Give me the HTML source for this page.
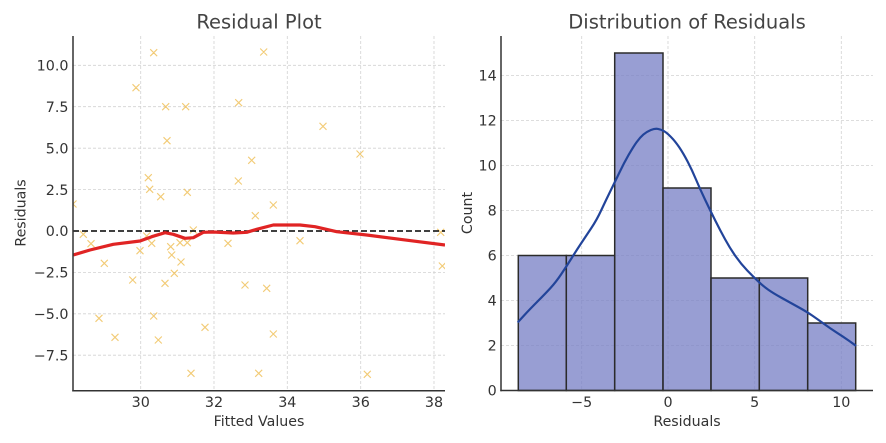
<!DOCTYPE html>
<html><head><meta charset="utf-8"><style>
html,body{margin:0;padding:0;background:#fff;}
svg{display:block;}
text{font-family:"DejaVu Sans","Liberation Sans",sans-serif;}
</style></head><body>
<svg width="886" height="443" viewBox="0 0 886 443" xmlns="http://www.w3.org/2000/svg">
<defs>
<clipPath id="cl"><rect x="73" y="36" width="372" height="355"/></clipPath>
</defs>
<rect width="886" height="443" fill="#fff"/>

<g stroke="#d2d2d2" stroke-width="0.8" stroke-dasharray="3,2" fill="none">
<line x1="140.7" y1="36" x2="140.7" y2="391"/>
<line x1="214" y1="36" x2="214" y2="391"/>
<line x1="287.3" y1="36" x2="287.3" y2="391"/>
<line x1="360.7" y1="36" x2="360.7" y2="391"/>
<line x1="434" y1="36" x2="434" y2="391"/>
<line x1="73" y1="65.3" x2="445" y2="65.3"/>
<line x1="73" y1="106.7" x2="445" y2="106.7"/>
<line x1="73" y1="148.2" x2="445" y2="148.2"/>
<line x1="73" y1="189.6" x2="445" y2="189.6"/>
<line x1="73" y1="272.4" x2="445" y2="272.4"/>
<line x1="73" y1="313.8" x2="445" y2="313.8"/>
<line x1="73" y1="355.2" x2="445" y2="355.2"/>
</g>

<g clip-path="url(#cl)" stroke="#f0c25e" stroke-opacity="0.85" stroke-width="1.1" fill="none">
<path d="M69.5,200.5l7,7m0,-7l-7,7 M132.5,84.2l7,7m0,-7l-7,7 M150.2,49.2l7,7m0,-7l-7,7 M162.2,103.2l7,7m0,-7l-7,7 M182.2,103.2l7,7m0,-7l-7,7 M163.5,137.2l7,7m0,-7l-7,7 M144.8,174.2l7,7m0,-7l-7,7 M146.2,185.8l7,7m0,-7l-7,7 M157.2,193.2l7,7m0,-7l-7,7 M183.8,188.8l7,7m0,-7l-7,7 M235.2,99.2l7,7m0,-7l-7,7 M260.2,48.5l7,7m0,-7l-7,7 M319.5,122.8l7,7m0,-7l-7,7 M356.5,150.5l7,7m0,-7l-7,7 M248.2,156.8l7,7m0,-7l-7,7 M234.8,177.5l7,7m0,-7l-7,7 M269.8,201.5l7,7m0,-7l-7,7 M251.8,212.2l7,7m0,-7l-7,7 M79.8,230.8l7,7m0,-7l-7,7 M87.5,240.2l7,7m0,-7l-7,7 M100.8,259.8l7,7m0,-7l-7,7 M129.2,276.5l7,7m0,-7l-7,7 M136.5,247.2l7,7m0,-7l-7,7 M148.2,239.8l7,7m0,-7l-7,7 M143.2,232.5l7,7m0,-7l-7,7 M95.5,314.8l7,7m0,-7l-7,7 M111.5,333.8l7,7m0,-7l-7,7 M150.2,312.5l7,7m0,-7l-7,7 M154.8,336.5l7,7m0,-7l-7,7 M161.5,279.8l7,7m0,-7l-7,7 M167.2,243.2l7,7m0,-7l-7,7 M168.2,251.5l7,7m0,-7l-7,7 M170.8,269.8l7,7m0,-7l-7,7 M177.5,258.5l7,7m0,-7l-7,7 M176.5,239.2l7,7m0,-7l-7,7 M183.8,239.2l7,7m0,-7l-7,7 M189.8,226.5l7,7m0,-7l-7,7 M187.5,369.8l7,7m0,-7l-7,7 M201.5,323.8l7,7m0,-7l-7,7 M224.5,239.8l7,7m0,-7l-7,7 M241.5,281.5l7,7m0,-7l-7,7 M255.2,369.8l7,7m0,-7l-7,7 M263.2,284.8l7,7m0,-7l-7,7 M269.8,330.5l7,7m0,-7l-7,7 M296.5,237.2l7,7m0,-7l-7,7 M363.8,370.8l7,7m0,-7l-7,7 M437.2,228.8l7,7m0,-7l-7,7 M438.8,262.5l7,7m0,-7l-7,7"/>
</g>

<line x1="73" y1="231" x2="445" y2="231" stroke="#000" stroke-width="1.6" stroke-dasharray="6,3"/>

<polyline clip-path="url(#cl)" fill="none" stroke="#e02424" stroke-width="3.2" stroke-linejoin="round" points="73.3,255 90,250 113.3,244.3 140,241 151.7,236.7 165,232.7 173.3,234.3 185,238.3 193.3,237.7 203.3,232.3 213.3,232 233.3,233 246.7,232.3 256.7,229.3 273.3,225 300,225 315,226.7 336.7,231.7 366.7,235 400,239.3 445,245"/>

<g stroke="#333" stroke-width="1.5">
<line x1="73" y1="36" x2="73" y2="391.5"/>
<line x1="72.3" y1="390.8" x2="445" y2="390.8"/>
</g>

<g fill="#333" font-size="14.3" text-anchor="end">
<text x="68.5" y="70.5">10.0</text>
<text x="68.5" y="111.9">7.5</text>
<text x="68.5" y="153.4">5.0</text>
<text x="68.5" y="194.8">2.5</text>
<text x="68.5" y="236.2">0.0</text>
<text x="68.5" y="277.6">−2.5</text>
<text x="68.5" y="319">−5.0</text>
<text x="68.5" y="360.4">−7.5</text>
</g>
<g fill="#333" font-size="14.3" text-anchor="middle">
<text x="140.7" y="407">30</text>
<text x="214" y="407">32</text>
<text x="287.3" y="407">34</text>
<text x="360.7" y="407">36</text>
<text x="434" y="407">38</text>
</g>
<text x="259" y="426" font-size="14.2" fill="#333" text-anchor="middle">Fitted Values</text>
<text transform="translate(25.5,213) rotate(-90)" font-size="14.2" fill="#333" text-anchor="middle">Residuals</text>
<text x="259" y="28.3" font-size="19.5" fill="#444" text-anchor="middle">Residual Plot</text>

<g stroke="#d2d2d2" stroke-width="0.8" stroke-dasharray="3,2" fill="none">
<line x1="581.7" y1="36" x2="581.7" y2="391"/>
<line x1="668" y1="36" x2="668" y2="391"/>
<line x1="754.7" y1="36" x2="754.7" y2="391"/>
<line x1="841.3" y1="36" x2="841.3" y2="391"/>
<line x1="501" y1="345.5" x2="873" y2="345.5"/>
<line x1="501" y1="300.5" x2="873" y2="300.5"/>
<line x1="501" y1="255.5" x2="873" y2="255.5"/>
<line x1="501" y1="210.5" x2="873" y2="210.5"/>
<line x1="501" y1="165.5" x2="873" y2="165.5"/>
<line x1="501" y1="120.5" x2="873" y2="120.5"/>
<line x1="501" y1="75.5" x2="873" y2="75.5"/>
</g>

<g fill="rgb(118,126,196)" fill-opacity="0.75" stroke="#2b2b2b" stroke-width="1.5">
<rect x="518.3" y="255.5" width="48" height="135"/>
<rect x="566.3" y="255.5" width="48.4" height="135"/>
<rect x="614.7" y="53" width="48.3" height="337.5"/>
<rect x="663" y="188" width="48" height="202.5"/>
<rect x="711" y="278" width="48.3" height="112.5"/>
<rect x="759.3" y="278" width="48.4" height="112.5"/>
<rect x="807.7" y="323" width="48" height="67.5"/>
</g>

<path fill="none" stroke="#22449a" stroke-width="2.2" stroke-linejoin="round" stroke-linecap="round" d="M518.3,321.7 L524.15,315.35 Q530,309 537.5,301.5 Q545,294 550.5,288 Q556,282 561.35,274 Q566.7,266 571.7,258 Q576.7,250 581.35,243 Q586,236 591.35,228 Q596.7,220 601.35,210 Q606,200 610.5,190.85 Q615,181.7 619.5,172.35 Q624,163 628.65,154.85 Q633.3,146.7 636.65,142.1 Q640,137.5 643.35,134.6 Q646.7,131.7 650.85,130 Q655,128.3 658,128.9 Q661,129.5 663.85,131.1 Q666.7,132.7 670.85,136.85 Q675,141 679.15,147.15 Q683.3,153.3 687.65,161.65 Q692,170 696,179.5 Q700,189 705,199.5 Q710,210 715,220 Q720,230 725,239.15 Q730,248.3 735.5,256.15 Q741,264 747.15,270.35 Q753.3,276.7 758.15,281.35 Q763,286 768.15,289.65 Q773.3,293.3 781.65,297.9 Q790,302.5 798.35,307.1 Q806.7,311.7 812.35,315.6 Q818,319.5 824,323.9 Q830,328.3 836.5,332.4 Q843,336.5 849.15,340.9 L855.3,345.3"/>

<g stroke="#333" stroke-width="1.5">
<line x1="501" y1="36" x2="501" y2="391.2"/>
<line x1="500.3" y1="390.5" x2="873" y2="390.5"/>
</g>

<g fill="#333" font-size="14.3" text-anchor="end">
<text x="496.7" y="395.7">0</text>
<text x="496.7" y="350.7">2</text>
<text x="496.7" y="305.7">4</text>
<text x="496.7" y="260.7">6</text>
<text x="496.7" y="215.7">8</text>
<text x="496.7" y="170.7">10</text>
<text x="496.7" y="125.7">12</text>
<text x="496.7" y="80.7">14</text>
</g>
<g fill="#333" font-size="14.3" text-anchor="middle">
<text x="581.7" y="407">−5</text>
<text x="668" y="407">0</text>
<text x="754.7" y="407">5</text>
<text x="841.3" y="407">10</text>
</g>
<text x="687" y="426" font-size="14.2" fill="#333" text-anchor="middle">Residuals</text>
<text transform="translate(472,213) rotate(-90)" font-size="14.2" fill="#333" text-anchor="middle">Count</text>
<text x="687" y="28.3" font-size="19.5" fill="#444" text-anchor="middle">Distribution of Residuals</text>
</svg>
</body></html>
